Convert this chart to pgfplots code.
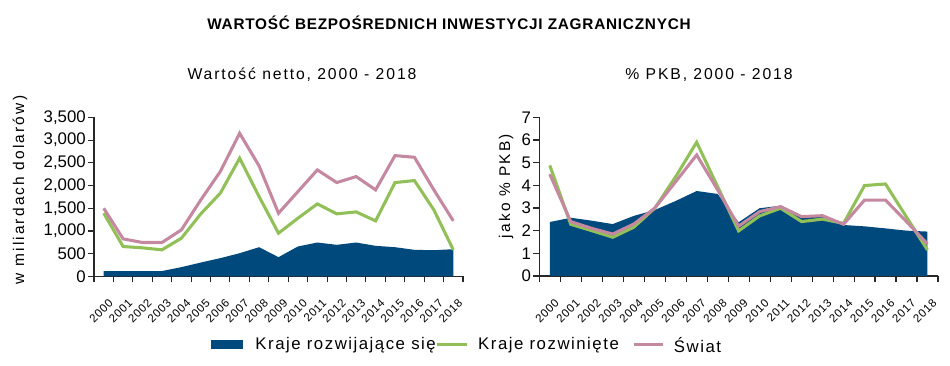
\documentclass[border=0pt]{standalone}
\usepackage{pgfplots}
\pgfplotsset{compat=1.18}
\usepackage{fontspec}
\setmainfont{Liberation Sans}
\newfontfamily\ftitle[LetterSpace=5]{Liberation Sans}
\newfontfamily\fsub[LetterSpace=12]{Liberation Sans}
\newfontfamily\fylab[LetterSpace=14]{Liberation Sans}
\newfontfamily\fleg[LetterSpace=9]{Liberation Sans}
\newfontfamily\ftick[LetterSpace=6]{Liberation Sans}
\definecolor{devblue}{RGB}{0,73,124}
\definecolor{devgreen}{RGB}{146,192,88}
\definecolor{worldpink}{RGB}{196,136,160}
\definecolor{axisgray}{RGB}{40,40,40}

\pgfplotsset{
  fdistyle/.style={
    scale only axis,
    xmin=-0.5, xmax=18.5, ymin=0,
    axis lines*=left,
    axis line style={draw=axisgray, line width=0.8pt, -},
    xtick={0,...,18},
    xticklabels={2000,2001,2002,2003,2004,2005,2006,2007,2008,2009,2010,2011,2012,2013,2014,2015,2016,2017,2018},
    major x tick style={draw=none},
    minor xtick={-0.5,0.5,...,18.5},
    minor x tick style={draw=axisgray, line width=0.8pt},
    minor tick length=4.5pt,
    major tick length=4.5pt,
    tick align=outside,
    y tick style={draw=axisgray, line width=0.8pt},
    xticklabel style={font=\ftick\fontsize{8.6}{9}\selectfont, rotate=45, anchor=north east, inner sep=1pt, yshift=-9.5pt, xshift=-5pt},
    yticklabel style={font=\fontsize{12.6}{13}\selectfont, inner sep=1.5pt},
    /pgf/number format/assume math mode=true,
    /pgf/number format/.cd, 1000 sep={,},
  },
}

\begin{document}
\begin{tikzpicture}[x=0.75pt,y=0.75pt]
\useasboundingbox (0,0) rectangle (950,366);

\node[font=\ftitle\fontsize{11.5}{13}\selectfont\bfseries] at (449,343) {WARTOŚĆ BEZPOŚREDNICH INWESTYCJI ZAGRANICZNYCH};
\node[font=\fsub\fontsize{11.8}{13}\selectfont] at (302,291) {Wartość netto, 2000 - 2018};
\node[font=\fsub\fontsize{11.8}{13}\selectfont] at (709,291) {\% PKB, 2000 - 2018};
\node[font=\fylab\fontsize{11.6}{13}\selectfont, rotate=90] at (20,176) {w miliardach dolarów)};
\node[font=\fylab\fontsize{11.6}{13}\selectfont, rotate=90] at (506,180) {jako \% PKB)};

\begin{axis}[fdistyle,
  at={(70.5pt,67.125pt)}, anchor=south west,
  width=276.75pt, height=119.4pt,
  ymax=3500, ytick={0,500,...,3500},
]
\addplot[fill=devblue, draw=none] coordinates {
(0,120) (1,120) (2,120) (3,120) (4,205) (5,307) (6,403) (7,512) (8,644) (9,425)
(10,660) (11,747) (12,696) (13,747) (14,674) (15,644) (16,586) (17,578) (18,600)
} \closedcycle;
\addplot[devgreen, line width=2.3pt] coordinates {
(0,1391) (1,659) (2,630) (3,586) (4,842) (5,1377) (6,1830) (7,2600) (8,1757) (9,952)
(10,1281) (11,1596) (12,1377) (13,1420) (14,1223) (15,2065) (16,2109) (17,1464) (18,586)
};
\addplot[worldpink, line width=2.3pt] coordinates {
(0,1500) (1,827) (2,747) (3,747) (4,1025) (5,1684) (6,2306) (7,3148) (8,2431) (9,1391)
(10,1867) (11,2343) (12,2065) (13,2197) (14,1904) (15,2658) (16,2621) (17,1904) (18,1223)
};
\end{axis}

\begin{axis}[fdistyle,
  at={(404.475pt,67.5pt)}, anchor=south west,
  width=299pt, height=119pt,
  ymax=7, ytick={0,1,...,7},
  legend style={at={(-0.823,-0.43)}, anchor=west, draw=none, fill=none, inner sep=0pt,
    font=\fleg\fontsize{12.6}{14}\selectfont,
    /tikz/column 1/.style={column sep=9pt},
    /tikz/column 2/.style={column sep=0pt},
    /tikz/column 3/.style={column sep=7.5pt},
    /tikz/column 4/.style={column sep=10pt},
    /tikz/column 5/.style={column sep=7pt},
    nodes={inner sep=0pt}},
  legend columns=3,
]
\addplot[fill=devblue, draw=none,
  legend image code/.code={\fill[devblue] (0pt,-3.4pt) rectangle (24pt,3.4pt);}] coordinates {
(0,2.38) (1,2.57) (2,2.44) (3,2.29) (4,2.65) (5,2.91) (6,3.31) (7,3.75) (8,3.62) (9,2.37)
(10,2.99) (11,3.10) (12,2.65) (13,2.62) (14,2.25) (15,2.19) (16,2.10) (17,2.00) (18,1.96)
} \closedcycle;
\addlegendentry{Kraje rozwijające się}
\addplot[devgreen, line width=2.3pt,
  legend image code/.code={\draw[devgreen, line width=2.3pt] (0pt,0pt) -- (22pt,0pt);}] coordinates {
(0,4.88) (1,2.28) (2,2.0) (3,1.71) (4,2.15) (5,2.99) (6,4.38) (7,5.9) (8,3.94) (9,1.99)
(10,2.65) (11,2.99) (12,2.40) (13,2.51) (14,2.32) (15,3.99) (16,4.06) (17,2.6) (18,1.15)
};
\addlegendentry{Kraje rozwinięte}
\addplot[worldpink, line width=2.3pt,
  legend image code/.code={\draw[worldpink, line width=2.3pt] (0pt,0pt) -- (22pt,0pt);}] coordinates {
(0,4.49) (1,2.40) (2,2.1) (3,1.85) (4,2.29) (5,2.99) (6,4.16) (7,5.34) (8,3.8) (9,2.2)
(10,2.84) (11,3.06) (12,2.62) (13,2.66) (14,2.28) (15,3.35) (16,3.35) (17,2.4) (18,1.41)
};
\addlegendentry{\raisebox{-3pt}{Świat}}
\end{axis}
\end{tikzpicture}
\end{document}
